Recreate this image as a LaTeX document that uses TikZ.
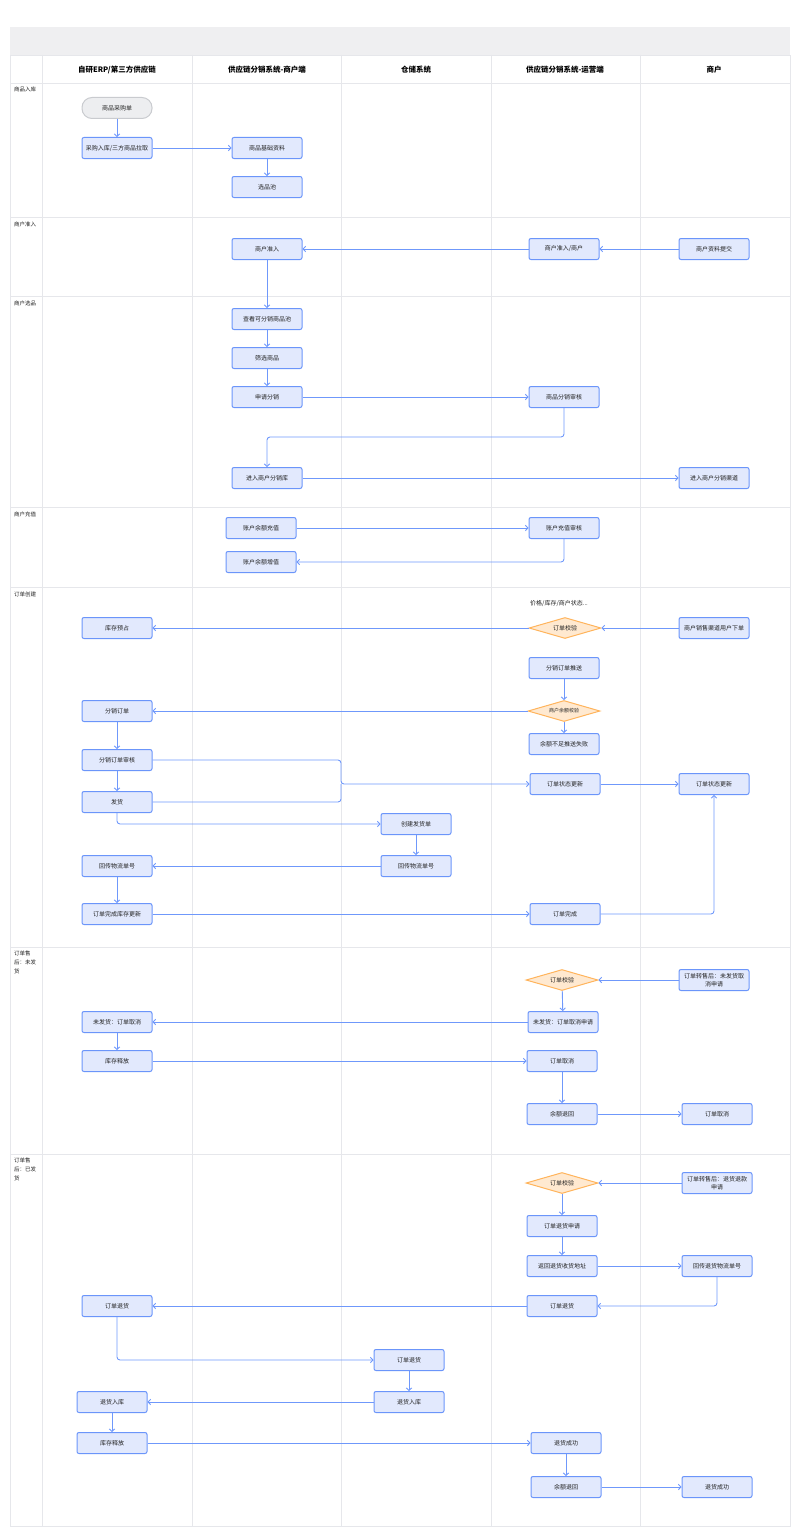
\documentclass[tikz,border=0pt]{standalone}
\usepackage{fontspec}
\setmainfont{Noto Sans CJK SC}
\usetikzlibrary{arrows.meta,shapes.geometric}
\definecolor{gridc}{HTML}{E6E7EB}
\definecolor{bandc}{HTML}{EFEFF1}
\definecolor{nodeb}{HTML}{6B95FA}
\definecolor{nodef}{HTML}{E2E9FD}
\definecolor{arrc}{HTML}{6F98FB}
\definecolor{diaf}{HTML}{FFE9D0}
\definecolor{diab}{HTML}{FFB45C}
\definecolor{pillf}{HTML}{EDEEF0}
\definecolor{pillb}{HTML}{C9CBCF}
\definecolor{txt}{HTML}{222222}
\tikzset{
  box/.style={rectangle, rounded corners=2pt, draw=nodeb, fill=nodef, line width=1pt,
    minimum width=70pt, minimum height=21pt, inner sep=1pt, align=center,
    font=\fontsize{6}{8.5}\selectfont, text=txt},
  pill/.style={box, rounded corners=10pt, draw=pillb, fill=pillf},
  dia/.style={diamond, aspect=3.4, draw=diab, fill=diaf, line width=1pt, minimum width=72pt,
    minimum height=21pt, inner sep=0pt, font=\fontsize{6}{8}\selectfont, text=txt},
  arr/.style={draw=arrc, line width=0.9pt, rounded corners=3pt,
    -{Straight Barb[length=2.5pt,width=5.5pt]}},
  hdr/.style={font=\fontsize{7.5}{9}\selectfont\bfseries, text=black},
  rowl/.style={font=\fontsize{5.5}{9}\selectfont, text=txt, anchor=north west, inner sep=0pt, align=left},
  gline/.style={draw=gridc, line width=0.7pt}
}
\begin{document}
\begin{tikzpicture}[x=1pt,y=-1pt]
\useasboundingbox (0,0) rectangle (800,1536);
% band and frame
\fill[bandc] (10,27) rectangle (790,55);
\draw[gline] (10,55) rectangle (790,1526);
\foreach \x in {42,192,341,491,640} \draw[gline] (\x,55) -- (\x,1526);
\foreach \y in {83,217,296,507,587,947,1154} \draw[gline] (10,\y) -- (790,\y);
% headers
\node[hdr] (h1) at (117,70) {自研ERP/第三方供应链};
\node[hdr] (h2) at (267,70) {供应链分销系统-商户端};
\node[hdr] (h3) at (416,70) {仓储系统};
\node[hdr] (h4) at (565,70) {供应链分销系统-运营端};
\node[hdr] (h5) at (714,70) {商户};
% row labels
\node[rowl] (r1) at (14,87) {商品入库};
\node[rowl] (r2) at (14,222) {商户准入};
\node[rowl] (r3) at (14,301) {商户选品};
\node[rowl] (r4) at (14,512) {商户充值};
\node[rowl] (r5) at (14,592) {订单创建};
\node[rowl] (r6) at (14,951) {订单售\\后：未发\\货};
\node[rowl] (r7) at (14,1158) {订单售\\后：已发\\货};
% row 1
\node[pill] (pur) at (117,108) {商品采购单};
\node[box] (cg) at (117,148) {采购入库/三方商品拉取};
\node[box] (jc) at (267,148) {商品基础资料};
\node[box] (xp) at (267,187) {选品池};
\draw[arr] (pur) -- (cg);
\draw[arr] (cg) -- (jc);
\draw[arr] (jc) -- (xp);
% row 2
\node[box] (zr) at (267,249) {商户准入};
\node[box] (zrs) at (564,249) {商户准入/商户};
\node[box] (tj) at (714,249) {商户资料提交};
\draw[arr] (tj) -- (zrs);
\draw[arr] (zrs) -- (zr);
% row 3
\node[box] (ck) at (267,319) {查看可分销商品池};
\node[box] (sx) at (267,358) {筛选商品};
\node[box] (sq) at (267,397) {申请分销};
\node[box] (sh) at (564,397) {商品分销审核};
\node[box] (jr) at (267,478) {进入商户分销库};
\node[box] (jrq) at (714,478) {进入商户分销渠道};
\coordinate (e1) at (267,437);
\draw[arr] (zr) -- (ck);
\draw[arr] (ck) -- (sx);
\draw[arr] (sx) -- (sq);
\draw[arr] (sq) -- (sh);
\draw[arr] (sh.south) |- (e1) -- (jr.north);
\draw[arr] (jr) -- (jrq);
% row 4
\node[box] (cz) at (261,528) {账户余额充值};
\node[box] (czs) at (564,528) {账户充值审核};
\node[box] (zz) at (261,562) {账户余额增值};
\draw[arr] (cz) -- (czs);
\draw[arr] (czs.south) |- (zz.east);
% row 5
\node[font=\fontsize{6}{8}\selectfont, text=txt] (note) at (559,603) {价格/库存/商户状态...};
\node[dia] (jy) at (565,628) {订单校验};
\node[box] (yz) at (117,628) {库存预占};
\node[box] (xd) at (714,628) {商户销售渠道用户下单};
\node[box] (ts) at (564,668) {分销订单推送};
\node[dia, font=\fontsize{5}{6}\selectfont] (yj) at (564,711) {商户余额校验};
\node[box] (bz) at (564,744) {余额不足推送失败};
\node[box] (fd) at (117,711) {分销订单};
\node[box] (fs) at (117,760) {分销订单审核};
\node[box] (fh) at (117,802) {发货};
\node[box] (gx1) at (565,784) {订单状态更新};
\node[box] (gx2) at (714,784) {订单状态更新};
\node[box] (cj) at (416,824) {创建发货单};
\node[box] (hc1) at (416,866) {回传物流单号};
\node[box] (hc2) at (117,866) {回传物流单号};
\node[box] (wc1) at (117,914) {订单完成库存更新};
\node[box] (wc2) at (565,914) {订单完成};
\coordinate (br) at (341,784);
\draw[arr] (xd) -- (jy);
\draw[arr] (jy) -- (yz);
\draw[arr] (ts) -- (yj);
\draw[arr] (yj) -- (fd);
\draw[arr] (yj) -- (bz);
\draw[arr] (fd) -- (fs);
\draw[arr] (fs) -- (fh);
\draw[arr] (fs.east) -| (br) -- (gx1.west);
\draw[draw=arrc, line width=0.9pt, rounded corners=3pt] (fh.east) -| (br);
\draw[arr] (gx1) -- (gx2);
\draw[arr] (fh.south) |- (cj.west);
\draw[arr] (cj) -- (hc1);
\draw[arr] (hc1) -- (hc2);
\draw[arr] (hc2) -- (wc1);
\draw[arr] (wc1) -- (wc2);
\draw[arr] (wc2.east) -| (gx2.south);
% row 6
\node[dia] (jy2) at (562,980) {订单校验};
\node[box] (sq2) at (714,980) {订单转售后：未发货取\\消申请};
\node[box] (qx1) at (563,1022) {未发货：订单取消申请};
\node[box] (qx2) at (117,1022) {未发货：订单取消};
\node[box] (sf) at (117,1061) {库存释放};
\node[box] (qx3) at (562,1061) {订单取消};
\node[box] (th) at (562,1114) {余额退回};
\node[box] (qx4) at (717,1114) {订单取消};
\draw[arr] (sq2) -- (jy2);
\draw[arr] (jy2) -- (qx1);
\draw[arr] (qx1) -- (qx2);
\draw[arr] (qx2) -- (sf);
\draw[arr] (sf) -- (qx3);
\draw[arr] (qx3) -- (th);
\draw[arr] (th) -- (qx4);
% row 7
\node[dia] (jy3) at (562,1183) {订单校验};
\node[box] (sq3) at (717,1183) {订单转售后：退货退款\\申请};
\node[box] (thsq) at (562,1226) {订单退货申请};
\node[box] (dz) at (562,1266) {返回退货收货地址};
\node[box] (hcth) at (717,1266) {回传退货物流单号};
\node[box] (td1) at (562,1306) {订单退货};
\node[box] (td2) at (117,1306) {订单退货};
\node[box] (td3) at (409,1360) {订单退货};
\node[box] (rk1) at (409,1402) {退货入库};
\node[box] (rk2) at (112,1402) {退货入库};
\node[box] (sf2) at (112,1443) {库存释放};
\node[box] (cg1) at (566,1443) {退货成功};
\node[box] (th2) at (566,1487) {余额退回};
\node[box] (cg2) at (717,1487) {退货成功};
\draw[arr] (sq3) -- (jy3);
\draw[arr] (jy3) -- (thsq);
\draw[arr] (thsq) -- (dz);
\draw[arr] (dz) -- (hcth);
\draw[arr] (hcth.south) |- (td1.east);
\draw[arr] (td1) -- (td2);
\draw[arr] (td2.south) |- (td3.west);
\draw[arr] (td3) -- (rk1);
\draw[arr] (rk1) -- (rk2);
\draw[arr] (rk2) -- (sf2);
\draw[arr] (sf2) -- (cg1);
\draw[arr] (cg1) -- (th2);
\draw[arr] (th2) -- (cg2);
\end{tikzpicture}
\end{document}
